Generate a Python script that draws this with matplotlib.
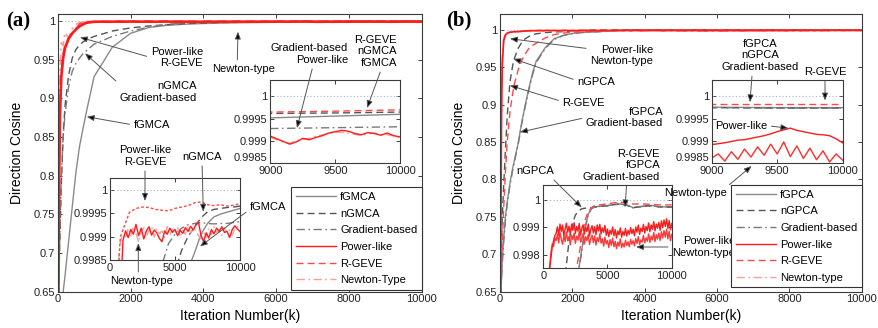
import matplotlib
matplotlib.use('Agg')
import matplotlib.pyplot as plt
from matplotlib.lines import Line2D
from matplotlib.ticker import FuncFormatter

plt.rcParams['font.family'] = ['Liberation Sans', 'DejaVu Sans']

W, H = 879, 328

# ------------------------------------------------------------------ panel (a) data
A_ITER_EARLY = [0, 20, 40, 60, 100, 150, 200, 300, 400, 500, 600, 700, 800]
A_ITER_SMOOTH = list(range(1000, 10001, 500))
A_ITER_NOISY = list(range(1000, 10001, 200))
A_ITER_TAIL = list(range(9000, 10001, 50))

FGMCA_EARLY = [0.58, 0.59, 0.60, 0.615, 0.635, 0.65, 0.67, 0.715, 0.76, 0.804, 0.838, 0.862, 0.885]
FGMCA_SMOOTH = [0.928, 0.966, 0.984, 0.9915, 0.9943, 0.9958, 0.9967, 0.9973, 0.9977, 0.998,
                0.9983, 0.99865, 0.99905, 0.99928, 0.99942, 0.99948, 0.99952, 0.99956, 0.9996]
NGMCA_EARLY = [0.58, 0.63, 0.68, 0.72, 0.79, 0.85, 0.89, 0.93, 0.952, 0.963, 0.969, 0.973, 0.976]
NGMCA_SMOOTH = [0.98, 0.987, 0.991, 0.9935, 0.9952, 0.9966, 0.9975, 0.998, 0.99825, 0.9987,
                0.999, 0.9992, 0.9994, 0.99953, 0.99958, 0.9996, 0.99962, 0.99963, 0.99965]
GRADA_EARLY = [0.59, 0.64, 0.69, 0.73, 0.80, 0.85, 0.88, 0.915, 0.935, 0.945, 0.952, 0.958, 0.962]
GRADA_SMOOTH = [0.97, 0.98, 0.987, 0.992, 0.9955, 0.9975, 0.9984, 0.99885, 0.99905, 0.99918,
                0.99925, 0.99928, 0.9993, 0.99928, 0.99927, 0.99928, 0.99928, 0.9993, 0.99932]
RGEVEA_EARLY = [0.50, 0.66, 0.80, 0.885, 0.935, 0.958, 0.968, 0.978, 0.985, 0.990, 0.996, 0.9986, 0.9990]
RGEVEA_SMOOTH = [0.99915, 0.99952, 0.9996, 0.99963, 0.99962, 0.99958, 0.99956, 0.99955, 0.9996, 0.99963,
                 0.99966, 0.99972, 0.99974, 0.99968, 0.99966, 0.99968, 0.99965, 0.99967, 0.9997]
POWERA_EARLY = [0.50, 0.65, 0.79, 0.875, 0.928, 0.952, 0.965, 0.977, 0.984, 0.989, 0.993, 0.9958, 0.9977]
POWERA_NOISY = [0.99892, 0.99912, 0.99898, 0.99915, 0.99905, 0.99926, 0.99902, 0.99918, 0.99895, 0.99912,
                0.99921, 0.99903, 0.99914, 0.99908, 0.99896, 0.99889, 0.99912, 0.99905, 0.99918, 0.99909,
                0.99915, 0.99902, 0.99913, 0.99907, 0.99919, 0.99911, 0.99922, 0.99914, 0.99925, 0.99931,
                0.99903, 0.99889, 0.99908, 0.99897, 0.99915, 0.99906, 0.99918, 0.99911, 0.99921, 0.99909,
                0.99911, 0.99898, 0.99915, 0.99923, 0.99916, 0.99911]
NEWTONA_EARLY = [0.55, 0.72, 0.86, 0.935, 0.972, 0.968, 0.985, 0.978, 0.990, 0.9955, 0.998, 0.9986, 0.9989]
NEWTONA_NOISY = [0.99905, 0.99896, 0.99918, 0.99902, 0.99921, 0.99908, 0.99888, 0.99911, 0.99919, 0.99901,
                 0.99913, 0.99922, 0.99899, 0.99917, 0.99906, 0.99912, 0.99898, 0.99921, 0.99903, 0.99916,
                 0.99907, 0.99919, 0.99899, 0.99914, 0.99905, 0.99923, 0.99908, 0.99918, 0.99912, 0.99902,
                 0.99895, 0.99912, 0.99899, 0.99918, 0.99904, 0.99921, 0.99909, 0.99915, 0.99902, 0.99919,
                 0.99908, 0.99914, 0.99903, 0.99917, 0.99921, 0.99909]
POWERA_TAIL = [0.99911, 0.99905, 0.99899, 0.99893, 0.99898, 0.99906, 0.99903, 0.99908, 0.99912, 0.99918,
               0.99921, 0.99924, 0.99922, 0.99917, 0.99914, 0.99919, 0.99917, 0.99913, 0.99918, 0.99912, 0.99909]
NEWTONA_TAIL = [0.99908, 0.99903, 0.99897, 0.99895, 0.99901, 0.99904, 0.99906, 0.99911, 0.99914, 0.99916,
                0.99919, 0.9992, 0.99918, 0.99915, 0.99912, 0.99916, 0.99918, 0.99915, 0.99914, 0.99911, 0.99908]

# ------------------------------------------------------------------ panel (b) data
B_ITER_EARLY = [0, 20, 40, 60, 100, 150, 200, 275, 350, 400, 500, 600, 700, 800, 900]
B_ITER_SMOOTH = [1000, 1250, 1500, 1750, 2000, 2250, 2500, 2750, 3000, 3250, 3500, 3750, 4000,
                 4500, 5000, 5500, 6000, 6500, 7000, 7500, 8000, 8500, 9000, 9500, 10000]
B_ITER_NOISY = list(range(1000, 10001, 100))
B_ITER_TAIL = list(range(9000, 10001, 50))

FGPCA_EARLY = [0.60, 0.64, 0.67, 0.69, 0.72, 0.75, 0.77, 0.795, 0.815, 0.826, 0.848, 0.876, 0.90, 0.922, 0.942]
FGPCA_SMOOTH = [0.958, 0.976, 0.988, 0.9925, 0.995, 0.9963, 0.997, 0.99745, 0.9982, 0.999, 0.99948, 0.9997, 0.99975,
                0.99978, 0.9998, 0.99984, 0.99986, 0.99982, 0.99972, 0.99976, 0.99979, 0.9998, 0.99976, 0.99975, 0.99975]
GRADB_EARLY = [0.60, 0.635, 0.665, 0.685, 0.715, 0.745, 0.767, 0.792, 0.812, 0.824, 0.846, 0.874, 0.898, 0.92, 0.94]
GRADB_SMOOTH = [0.956, 0.975, 0.987, 0.9922, 0.9948, 0.9962, 0.9969, 0.9974, 0.9981, 0.99895, 0.99945, 0.99968, 0.99974,
                0.99977, 0.99979, 0.99983, 0.99985, 0.99981, 0.99971, 0.99975, 0.99978, 0.99979, 0.99975, 0.99974, 0.99974]
NGPCA_EARLY = [0.62, 0.67, 0.71, 0.745, 0.79, 0.84, 0.885, 0.93, 0.952, 0.962, 0.975, 0.983, 0.988, 0.991, 0.9932]
NGPCA_SMOOTH = [0.9945, 0.9962, 0.997, 0.9974, 0.9985, 0.9991, 0.99945, 0.9996, 0.99968, 0.9997, 0.99972, 0.99972, 0.99974,
                0.99977, 0.99979, 0.99983, 0.99985, 0.99981, 0.99972, 0.99975, 0.99978, 0.99979, 0.99975, 0.99974, 0.99974]
RGEVEB_EARLY = [0.55, 0.62, 0.67, 0.71, 0.76, 0.81, 0.85, 0.89, 0.915, 0.928, 0.946, 0.959, 0.968, 0.975, 0.979]
RGEVEB_SMOOTH = [0.982, 0.989, 0.9935, 0.9955, 0.9966, 0.9971, 0.99735, 0.9979, 0.9986, 0.99925, 0.99958, 0.99972, 0.9998,
                 0.99983, 0.99986, 0.9999, 0.99992, 0.9999, 0.99985, 0.99986, 0.99985, 0.99984, 0.99982, 0.99982, 0.99982]
POWERB_EARLY = [0.45, 0.70, 0.88, 0.95, 0.985, 0.993, 0.9955, 0.9966, 0.9971, 0.9973, 0.9975, 0.9979, 0.9983, 0.9985, 0.9987]
POWERB_NOISY = [0.99878, 0.99902, 0.99871, 0.99912, 0.99885, 0.99908, 0.99869, 0.99895, 0.99915, 0.99882,
                0.99904, 0.99874, 0.99911, 0.99889, 0.99917, 0.99878, 0.99903, 0.99886, 0.99914, 0.99872,
                0.99897, 0.99909, 0.99876, 0.99901, 0.99884, 0.99912, 0.99868, 0.99893, 0.99906, 0.99879,
                0.99902, 0.99873, 0.99909, 0.99887, 0.99911, 0.99876, 0.99898, 0.99882, 0.99907, 0.99871,
                0.99894, 0.99866, 0.99889, 0.99875, 0.99901, 0.99869, 0.99892, 0.99861, 0.99887, 0.99873,
                0.99898, 0.99864, 0.99885, 0.99871, 0.99896, 0.99868, 0.99889, 0.99874, 0.99899, 0.99877,
                0.99893, 0.99869, 0.99901, 0.99882, 0.99908, 0.99874, 0.99897, 0.99885, 0.99911, 0.99879,
                0.99903, 0.99888, 0.99916, 0.99884, 0.99909, 0.99893, 0.99921, 0.99887, 0.99912, 0.99897,
                0.99918, 0.99889, 0.99924, 0.99899, 0.99927, 0.99903, 0.99931, 0.99896, 0.99925, 0.99891,
                0.99914]
NEWTONB_EARLY = [0.50, 0.75, 0.90, 0.96, 0.987, 0.994, 0.9958, 0.9967, 0.9971, 0.9973, 0.9976, 0.9981, 0.9984, 0.9983, 0.9986]
NEWTONB_NOISY = [0.99852, 0.99874, 0.99843, 0.99881, 0.99857, 0.99838, 0.99869, 0.99848, 0.99883, 0.99851,
                 0.99866, 0.99836, 0.99872, 0.99855, 0.99879, 0.99841, 0.99868, 0.99853, 0.99884, 0.99846,
                 0.99862, 0.99877, 0.99839, 0.99866, 0.99851, 0.99874, 0.99837, 0.99859, 0.99871, 0.99844,
                 0.99869, 0.99835, 0.99862, 0.99848, 0.99876, 0.99842, 0.99858, 0.99831, 0.99864, 0.99839,
                 0.99852, 0.99826, 0.99855, 0.99834, 0.99861, 0.99829, 0.99849, 0.99822, 0.99846, 0.99831,
                 0.99858, 0.99825, 0.99842, 0.99828, 0.99853, 0.99833, 0.99847, 0.99829, 0.99856, 0.99838,
                 0.99851, 0.99832, 0.99859, 0.99841, 0.99866, 0.99837, 0.99854, 0.99846, 0.99871, 0.99843,
                 0.99862, 0.99849, 0.99876, 0.99845, 0.99868, 0.99854, 0.99881, 0.99848, 0.99873, 0.99857,
                 0.99879, 0.99852, 0.99884, 0.99861, 0.99888, 0.99864, 0.99893, 0.99858, 0.99886, 0.99851,
                 0.99874]
POWERB_TAIL = [0.99892, 0.99894, 0.99896, 0.99899, 0.99902, 0.99903, 0.99906, 0.99909, 0.99912, 0.99916,
               0.99921, 0.99925, 0.99929, 0.99924, 0.99921, 0.99918, 0.99915, 0.99914, 0.99912, 0.99905, 0.99896]
NEWTONB_TAIL = [0.99862, 0.99871, 0.99855, 0.99876, 0.99859, 0.99882, 0.99864, 0.99887, 0.99868, 0.99893,
                0.99871, 0.99898, 0.99865, 0.99889, 0.99861, 0.99884, 0.99858, 0.99878, 0.99853, 0.99871, 0.99857]

LABELS_A = ['fGMCA', 'nGMCA', 'Gradient-based', 'Power-like', 'R-GEVE', 'Newton-Type']
LABELS_B = ['fGPCA', 'nGPCA', 'Gradient-based', 'Power-like', 'R-GEVE', 'Newton-type']

# ------------------------------------------------------------------ styles
DD = (0, (6, 2.5, 1.2, 2.5))
S_F = dict(color='#8a8a8a', lw=1.0, ls='-')
S_N = dict(color='#555555', lw=1.0, ls=(0, (5, 3)))
S_G = dict(color='#7a7a7a', lw=1.0, ls=DD)
S_P = dict(color='#ff1c1c', lw=1.0, ls='-')
S_R = dict(color='#ff4a4a', lw=1.0, ls=(0, (5, 3)))
S_T = dict(color='#ff9c9c', lw=1.0, ls=DD)
REF = dict(color='#a8b0dc', lw=0.8, ls=(0, (1, 2)))

fmt = FuncFormatter(lambda v, p: '%g' % round(v, 6))


def rect(l, t, r, b):
    return [l / W, 1 - b / H, (r - l) / W, (b - t) / H]


def style(ax, fs):
    ax.tick_params(direction='in', top=True, right=True, length=3, width=0.6,
                   labelsize=fs, pad=2, colors='#222222')
    for s in ax.spines.values():
        s.set_linewidth(0.8)
        s.set_color('#3a3a3a')
    ax.xaxis.set_major_formatter(fmt)
    ax.yaxis.set_major_formatter(fmt)


def note(ax, text, xy, txy, ha='center', relpos=(0.5, 0.5)):
    ax.annotate(text, xy=xy, xycoords='data', xytext=(txy[0], H - txy[1]),
                textcoords='figure pixels', ha=ha, va='center', fontsize=8,
                linespacing=1.2, annotation_clip=False, zorder=20,
                arrowprops=dict(arrowstyle='-|>,head_length=0.55,head_width=0.22',
                                fc='black', ec='#555555', lw=0.7,
                                shrinkA=1, shrinkB=0, relpos=relpos))


fig = plt.figure(figsize=(W / 100, H / 100), dpi=100)

# ================================================================== panel (a)
axA = fig.add_axes(rect(57.7, 14, 421.7, 291.7))
style(axA, 8)
xa_s = A_ITER_EARLY + A_ITER_SMOOTH
xa_n = A_ITER_EARLY + A_ITER_NOISY
axA.axhline(1, **REF)
axA.plot(xa_s, FGMCA_EARLY + FGMCA_SMOOTH, **S_F)
axA.plot(xa_s, NGMCA_EARLY + NGMCA_SMOOTH, **S_N)
axA.plot(xa_s, GRADA_EARLY + GRADA_SMOOTH, **S_G)
axA.plot(xa_n, NEWTONA_EARLY + NEWTONA_NOISY, **{**S_T, 'lw': 1.2})
axA.plot(xa_s, RGEVEA_EARLY + RGEVEA_SMOOTH, **{**S_R, 'lw': 1.3})
axA.plot(xa_n, POWERA_EARLY + POWERA_NOISY, **{**S_P, 'lw': 1.9})
axA.set_xlim(0, 10000)
axA.set_ylim(0.65, 1.009)
axA.set_xticks([0, 2000, 4000, 6000, 8000, 10000])
axA.set_yticks([0.65, 0.7, 0.75, 0.8, 0.85, 0.9, 0.95, 1.0])
axA.set_xlabel('Iteration Number(k)', fontsize=10, labelpad=3)
axA.set_ylabel('Direction Cosine', fontsize=10, labelpad=7)

note(axA, 'Power-like\nR-GEVE', (613, 0.9789), (203, 57.5), ha='right', relpos=(0, 0.5))
note(axA, 'nGMCA\nGradient-based', (750, 0.9582), (197, 92), ha='right', relpos=(0, 0.85))
note(axA, 'fGMCA', (797, 0.8762), (170, 125), ha='right', relpos=(0, 0.5))
note(axA, 'Newton-type', (4953, 0.9862), (243.5, 69), ha='center', relpos=(0.4, 1))

# upper-right inset (a)
axAu = fig.add_axes(rect(270.3, 80, 400.3, 163.3))
style(axAu, 8)
axAu.axhline(1, **REF)
axAu.plot(A_ITER_SMOOTH, FGMCA_SMOOTH, **S_F)
axAu.plot(A_ITER_SMOOTH, NGMCA_SMOOTH, **S_N)
axAu.plot(A_ITER_SMOOTH, GRADA_SMOOTH, **S_G)
axAu.plot(A_ITER_TAIL, NEWTONA_TAIL, **S_T)
axAu.plot(A_ITER_SMOOTH, RGEVEA_SMOOTH, **S_R)
axAu.plot(A_ITER_TAIL, POWERA_TAIL, **S_P)
axAu.set_xlim(9000, 10000)
axAu.set_ylim(0.9985, 1.00037)
axAu.set_xticks([9000, 9500, 10000])
axAu.set_yticks([0.9985, 0.999, 0.9995, 1.0])
axAu.yaxis.get_major_ticks()[0].label1.set_verticalalignment('bottom')
note(axAu, 'Gradient-based\nPower-like', (9205, 0.99929), (348, 54), ha='right', relpos=(0.55, 0))
note(axAu, 'R-GEVE\nnGMCA\nfGMCA', (9744, 0.99974), (397, 51.5), ha='right', relpos=(0.64, 0))

# lower-left inset (a)
axAl = fig.add_axes(rect(110, 178, 240, 260))
style(axAl, 8)
axAl.axhline(1, **REF)
axAl.plot(xa_s, FGMCA_EARLY + FGMCA_SMOOTH, **S_F)
axAl.plot(xa_s, NGMCA_EARLY + NGMCA_SMOOTH, **S_N)
axAl.plot(xa_s, GRADA_EARLY + GRADA_SMOOTH, **S_G)
axAl.plot(xa_n, NEWTONA_EARLY + NEWTONA_NOISY, **S_T)
axAl.plot(xa_s, RGEVEA_EARLY + RGEVEA_SMOOTH, **{**S_R, 'ls': (0, (2, 1.5))})
axAl.plot(xa_n, POWERA_EARLY + POWERA_NOISY, **S_P)
axAl.set_xlim(0, 10000)
axAl.set_ylim(0.9985, 1.00025)
axAl.set_xticks([0, 5000, 10000])
axAl.set_yticks([0.9985, 0.999, 0.9995, 1.0])
note(axAl, 'Power-like\nR-GEVE', (2692, 0.99976), (145, 156), ha='center', relpos=(0.5, 0))
note(axAl, 'nGMCA', (7177, 0.99953), (202, 156.7), ha='center', relpos=(0.5, 0))
note(axAl, 'fGMCA', (6923, 0.99879), (250, 207.3), ha='left', relpos=(0, 0.3))
note(axAl, 'Newton-type', (2177, 0.99886), (141.5, 281), ha='center', relpos=(0.45, 1))

# ================================================================== panel (b)
axB = fig.add_axes(rect(500, 14, 861.7, 291.7))
style(axB, 8)
xb_s = B_ITER_EARLY + B_ITER_SMOOTH
xb_n = B_ITER_EARLY + B_ITER_NOISY
axB.axhline(1, **REF)
axB.plot(xb_s, FGPCA_EARLY + FGPCA_SMOOTH, **S_F)
axB.plot(xb_s, NGPCA_EARLY + NGPCA_SMOOTH, **S_N)
axB.plot(xb_s, GRADB_EARLY + GRADB_SMOOTH, **S_G)
axB.plot(xb_n, NEWTONB_EARLY + NEWTONB_NOISY, **{**S_T, 'lw': 1.2})
axB.plot(xb_s, RGEVEB_EARLY + RGEVEB_SMOOTH, **S_R)
axB.plot(xb_n, POWERB_EARLY + POWERB_NOISY, **{**S_P, 'lw': 1.3})
axB.set_xlim(0, 10000)
axB.set_ylim(0.65, 1.021)
axB.set_xticks([0, 2000, 4000, 6000, 8000, 10000])
axB.set_yticks([0.65, 0.7, 0.75, 0.8, 0.85, 0.9, 0.95, 1.0])
axB.set_xlabel('Iteration Number(k)', fontsize=10, labelpad=3)
axB.set_ylabel('Direction Cosine', fontsize=10, labelpad=7)

note(axB, 'Power-like\nNewton-type', (276, 0.988), (653, 55.5), ha='right', relpos=(0.15, 0.75))
note(axB, 'nGPCA', (368, 0.9612), (615, 81.7), ha='right', relpos=(0, 0.6))
note(axB, 'R-GEVE', (276, 0.9255), (605, 102.7), ha='right', relpos=(0, 0.6))
note(axB, 'fGPCA\nGradient-based', (553, 0.8632), (663, 117.5), ha='right', relpos=(0, 0.5))

# lower inset (b)  (created before the upper one so the upper one's notes sit on top)
axBl = fig.add_axes(rect(543.3, 185, 671.7, 268.3))
style(axBl, 8)
axBl.axhline(1, **REF)
axBl.plot(xb_s, FGPCA_EARLY + FGPCA_SMOOTH, **S_F)
axBl.plot(xb_s, NGPCA_EARLY + NGPCA_SMOOTH, **S_N)
axBl.plot(xb_s, GRADB_EARLY + GRADB_SMOOTH, **S_G)
axBl.plot(xb_n, NEWTONB_EARLY + NEWTONB_NOISY, **{**S_T, 'color': '#ff3a3a', 'ls': '-'})
axBl.plot(xb_s, RGEVEB_EARLY + RGEVEB_SMOOTH, **S_R)
axBl.plot(xb_n, POWERB_EARLY + POWERB_NOISY, **S_P)
axBl.set_xlim(0, 10000)
axBl.set_ylim(0.9975, 1.00055)
axBl.set_xticks([0, 5000, 10000])
axBl.set_yticks([0.998, 0.999, 1.0])
note(axBl, 'nGPCA', (2991, 0.99973), (535, 171.3), ha='center', relpos=(0.9, 0))
note(axBl, 'R-GEVE\nfGPCA\nGradient-based', (6363, 0.99973), (660, 165.3), ha='right', relpos=(0.57, 0))
note(axBl, 'Power-like\nNewton-type', (7220, 0.99828), (735, 247), ha='right', relpos=(0, 0.5))

# upper-right inset (b)
axBu = fig.add_axes(rect(711.7, 80, 842.7, 163.3))
style(axBu, 8)
axBu.axhline(1, **REF)
axBu.plot(B_ITER_SMOOTH, FGPCA_SMOOTH, **S_F)
axBu.plot(B_ITER_SMOOTH, NGPCA_SMOOTH, **S_N)
axBu.plot(B_ITER_SMOOTH, GRADB_SMOOTH, **S_G)
axBu.plot(B_ITER_TAIL, NEWTONB_TAIL, **{**S_T, 'color': '#ff3030', 'ls': '-'})
axBu.plot(B_ITER_SMOOTH, RGEVEB_SMOOTH, **S_R)
axBu.plot(B_ITER_TAIL, POWERB_TAIL, **S_P)
axBu.set_xlim(9000, 10000)
axBu.set_ylim(0.9985, 1.00037)
axBu.set_xticks([9000, 9500, 10000])
axBu.set_yticks([0.9985, 0.999, 0.9995, 1.0])
axBu.yaxis.get_major_ticks()[0].label1.set_verticalalignment('bottom')
note(axBu, 'fGPCA\nnGPCA\nGradient-based', (9292, 0.99987), (760, 55.5), ha='center', relpos=(0.4, 0))
note(axBu, 'R-GEVE', (9865, 0.99991), (825, 71.7), ha='center', relpos=(0.5, 0))
note(axBu, 'Power-like', (9585, 0.99929), (715, 125.7), ha='left', relpos=(1, 0.5))
note(axBu, 'Newton-type', (9305, 0.99844), (727, 193.3), ha='right', relpos=(0.95, 0.9))

# ================================================================== legends
def handles():
    return [Line2D([], [], **S_F), Line2D([], [], **S_N), Line2D([], [], **S_G),
            Line2D([], [], **S_P), Line2D([], [], **S_R), Line2D([], [], **S_T)]


for labels, right, bottom in ((LABELS_A, 421.7, 289.7), (LABELS_B, 861.7, 287.3)):
    leg = fig.legend(handles(), labels, loc='lower right',
                     bbox_to_anchor=(right / W, 1 - bottom / H), fontsize=8,
                     frameon=True, fancybox=False, framealpha=1, edgecolor='#333333',
                     handlelength=3.6, handletextpad=0.4, labelspacing=0.6,
                     borderpad=0.4, borderaxespad=0)
    leg.get_frame().set_linewidth(0.8)

# panel labels
fig.text(6 / W, 1 - 21 / H, '(a)', fontsize=15, fontweight='bold',
         family=['Liberation Serif', 'DejaVu Serif'], ha='left', va='center')
fig.text(446 / W, 1 - 20 / H, '(b)', fontsize=15, fontweight='bold',
         family=['Liberation Serif', 'DejaVu Serif'], ha='left', va='center')

fig.savefig('out.png', dpi=100)
